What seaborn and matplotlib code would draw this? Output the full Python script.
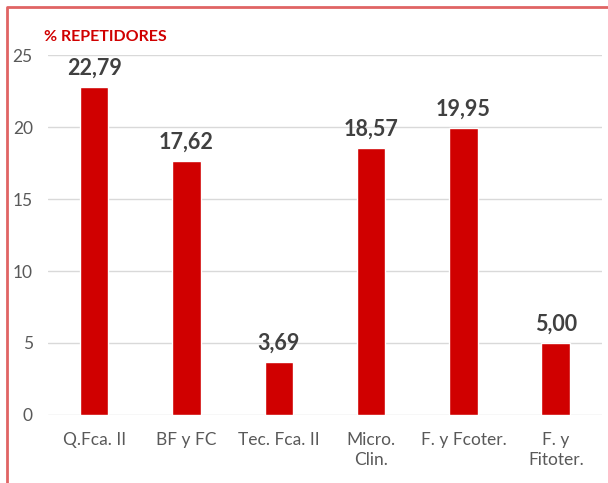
import matplotlib
matplotlib.use("Agg")
import matplotlib.pyplot as plt
import seaborn as sns
import pandas as pd
from matplotlib.lines import Line2D

# Data
categories = ["Q.Fca. II", "BF y FC", "Tec. Fca. II", "Micro.\nClin.", "F. y Fcoter.", "F. y\nFitoter."]
repetidores = [22.79, 17.62, 3.69, 18.57, 19.95, 5.00]
value_labels = ["22,79", "17,62", "3,69", "18,57", "19,95", "5,00"]
y_ticks = [0, 5, 10, 15, 20, 25]

df = pd.DataFrame({"asignatura": categories, "pct": repetidores})

sns.set_theme(style="white")
plt.rcParams['font.family'] = ['Lato', 'DejaVu Sans']

fig = plt.figure(figsize=(6.08, 4.83), dpi=100)
ax = fig.add_axes([0.079, 0.1408, 0.911, 0.7453])

sns.barplot(data=df, x="asignatura", y="pct", color="#d00000", width=0.31,
            saturation=1, ax=ax)

ax.set_ylim(0, 25)
ax.set_yticks(y_ticks)
ax.yaxis.grid(True, color="#d9d9d9", linewidth=1)
ax.set_axisbelow(True)
for s in ax.spines.values():
    s.set_visible(False)
ax.set_xlabel("")
ax.set_ylabel("")
ax.tick_params(axis="both", length=0, labelsize=12.5, colors="#595959")
ax.tick_params(axis="y", pad=11)
ax.tick_params(axis="x", pad=12)
for t in ax.get_xticklabels():
    t.set_linespacing(1.3)

for i, (v, lab) in enumerate(zip(repetidores, value_labels)):
    ax.annotate(lab, (i, v), xytext=(0, 6), textcoords="offset points",
                ha="center", va="bottom", fontsize=15.5, fontweight="bold",
                color="#404040")

fig.text(0.072, 0.908, "% REPETIDORES", color="#d00000", fontsize=11.5,
         fontweight="bold", ha="left", va="bottom")

# chart frame (cropped)
fig.add_artist(Line2D([0.0115, 0.0115, 1.0], [0.0, 0.9845, 0.9845],
                      transform=fig.transFigure, color="#e06464", linewidth=2))

fig.savefig("out.png", dpi=100)
